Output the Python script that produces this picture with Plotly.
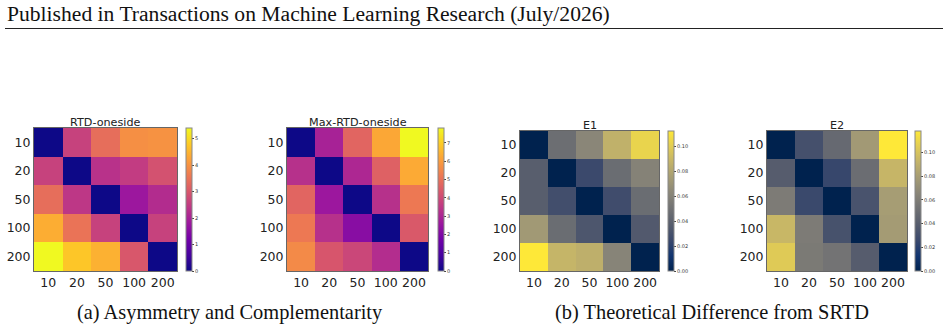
import plotly.graph_objects as go

labels = ["10", "20", "50", "100", "200"]

rtd_oneside = [
    [0.0, 2.6, 3.4, 3.95, 4.0],
    [2.6, 0.0, 2.3, 2.5, 2.9],
    [3.4, 2.4, 0.0, 1.8, 2.2],
    [4.4, 3.5, 2.6, 0.0, 2.6],
    [5.4, 4.75, 4.45, 3.0, 0.0],
]
max_rtd_oneside = [
    [0.0, 2.9, 4.7, 6.25, 7.82],
    [3.3, 0.0, 3.05, 4.6, 6.3],
    [4.7, 2.6, 0.0, 3.3, 5.2],
    [5.2, 3.3, 2.2, 0.0, 4.4],
    [5.6, 4.3, 3.9, 3.2, 0.0],
]
e1 = [
    [0.0, 0.048, 0.062, 0.086, 0.103],
    [0.038, 0.0, 0.025, 0.047, 0.060],
    [0.038, 0.028, 0.0, 0.027, 0.047],
    [0.073, 0.047, 0.033, 0.0, 0.035],
    [0.112, 0.088, 0.085, 0.061, 0.0],
]
e2 = [
    [0.0, 0.031, 0.047, 0.077, 0.118],
    [0.039, 0.0, 0.025, 0.050, 0.093],
    [0.059, 0.026, 0.0, 0.033, 0.079],
    [0.094, 0.059, 0.032, 0.0, 0.078],
    [0.104, 0.058, 0.054, 0.039, 0.0],
]

titles = ["RTD-oneside", "Max-RTD-oneside", "E1", "E2"]
datasets = [rtd_oneside, max_rtd_oneside, e1, e2]
scales = ["Plasma", "Plasma", "Cividis", "Cividis"]
cb_ticks = [
    [0, 1, 2, 3, 4, 5],
    [0, 1, 2, 3, 4, 5, 6, 7],
    [0, 0.02, 0.04, 0.06, 0.08, 0.10],
    [0, 0.02, 0.04, 0.06, 0.08, 0.10],
]
cb_text = [
    [str(v) for v in cb_ticks[0]],
    [str(v) for v in cb_ticks[1]],
    ["0.00", "0.02", "0.04", "0.06", "0.08", "0.10"],
    ["0.00", "0.02", "0.04", "0.06", "0.08", "0.10"],
]

W, H = 948, 328
# pixel boxes: (x0, x1, y0, y1, colorbar_x0, title_center_y)
boxes = [
    (34, 177, 128, 271, 186, 122),
    (287, 428, 128, 271, 438, 122),
    (520, 659, 131, 271, 668, 125),
    (767, 907, 131, 271, 915, 125),
]

fig = go.Figure()
for i, (z, title, cs, box) in enumerate(zip(datasets, titles, scales, boxes)):
    x0, x1, y0, y1, cbx, ty = box
    n = i + 1
    xa = "x" if n == 1 else f"x{n}"
    ya = "y" if n == 1 else f"y{n}"
    zmax = max(max(r) for r in z)
    fig.add_trace(go.Heatmap(
        z=z, x=labels, y=labels, colorscale=cs, zmin=0, zmax=zmax,
        xaxis=xa, yaxis=ya,
        colorbar=dict(
            x=cbx / W, xanchor="left", xref="paper",
            y=1 - (y0 + y1) / 2 / H, yanchor="middle", yref="paper",
            len=(y1 - y0) / H, lenmode="fraction",
            thickness=6, thicknessmode="pixels",
            xpad=0, ypad=0,
            outlinewidth=1, outlinecolor="#888888",
            tickvals=cb_ticks[i], ticktext=cb_text[i],
            ticks="outside", ticklen=2, tickwidth=0.6, tickcolor="#444",
            tickfont=dict(size=5, family="DejaVu Sans", color="#333"),
        ),
    ))
    axis_common = dict(
        showline=True, mirror=True, linecolor="#666666", linewidth=1,
        ticks="",
        tickfont=dict(size=12.5, family="DejaVu Sans", color="#222"),
        showgrid=False, zeroline=False, type="category",
    )
    fig.layout[("xaxis" if n == 1 else f"xaxis{n}")] = dict(
        domain=[x0 / W, x1 / W], anchor=ya, **axis_common)
    fig.layout[("yaxis" if n == 1 else f"yaxis{n}")] = dict(
        domain=[1 - y1 / H, 1 - y0 / H], anchor=xa, autorange="reversed",
        **axis_common)
    fig.add_annotation(
        x=(x0 + x1) / 2 / W, y=1 - ty / H, xref="paper", yref="paper",
        text=title, showarrow=False, xanchor="center", yanchor="middle",
        font=dict(size=11.2, family="DejaVu Sans", color="#222"))

# header
fig.add_annotation(
    x=5 / W, y=1 - 14 / H, xref="paper", yref="paper", xanchor="left",
    yanchor="middle", showarrow=False,
    text="Published in Transactions on Machine Learning Research (July/2026)",
    font=dict(size=21.6, family="Liberation Serif", color="#111"))
fig.add_shape(type="line", xref="paper", yref="paper",
              x0=5 / W, x1=943 / W, y0=1 - 28.5 / H, y1=1 - 28.5 / H,
              line=dict(color="#222", width=1))

# captions
fig.add_annotation(
    x=(77 + 382) / 2 / W, y=1 - 312 / H, xref="paper", yref="paper",
    showarrow=False, xanchor="center", yanchor="middle",
    text="(a) Asymmetry and Complementarity",
    font=dict(size=20.4, family="Liberation Serif", color="#111"))
fig.add_annotation(
    x=(563 + 860) / 2 / W, y=1 - 312 / H, xref="paper", yref="paper",
    showarrow=False, xanchor="center", yanchor="middle",
    text="(b) Theoretical Difference from SRTD",
    font=dict(size=20.4, family="Liberation Serif", color="#111"))

fig.update_layout(
    width=W, height=H, margin=dict(l=0, r=0, t=0, b=0),
    paper_bgcolor="white", plot_bgcolor="white", showlegend=False,
)

fig.write_html("out.html")
